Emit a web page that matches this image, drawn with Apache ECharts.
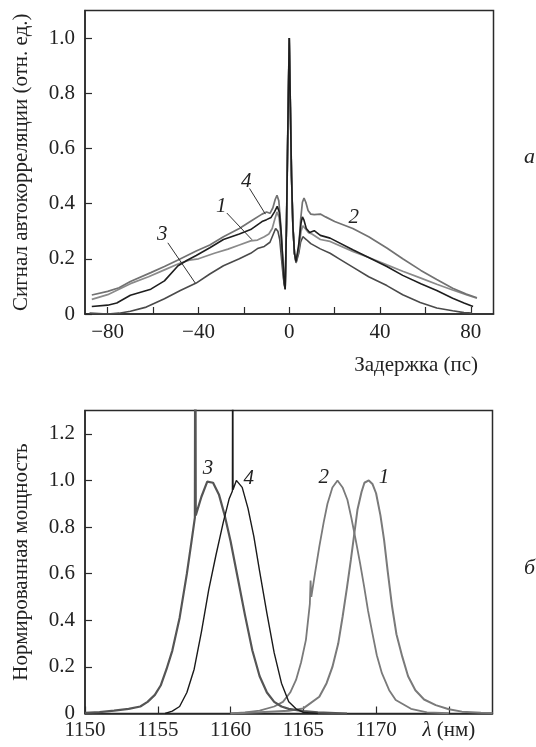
<!DOCTYPE html>
<html>
<head>
<meta charset="utf-8">
<script src="https://cdn.jsdelivr.net/npm/echarts@6/dist/echarts.min.js"></script>
<style>
html,body{margin:0;padding:0;background:#fff;}
#c{width:536px;height:747px;}
</style>
</head>
<body>
<div id="c"></div>
<script>
// ---------- Panel a: autocorrelation ----------
const acfXTicks = [-80, -60, -40, -20, 0, 20, 40, 60, 80];
const acfXLabels = [-80, -40, 0, 40, 80];
const acfYTicks = [0, 0.2, 0.4, 0.6, 0.8, 1.0];

const acf1 = [[-87,0.053],[-80,0.07],[-70,0.11],[-62,0.135],[-55,0.16],[-48,0.185],[-44,0.195],[-40,0.2],[-33,0.22],[-27,0.235],[-22,0.25],[-17,0.265],[-14,0.268],[-11,0.28],[-9,0.29],[-7.5,0.31],[-6.5,0.34],[-5.4,0.37],[-4.5,0.35],[-3.6,0.28],[-2.8,0.18],[-2.2,0.11],[-1.8,0.09],[-1.2,0.33],[-0.6,0.68],[0,1.0],[0.5,0.75],[1,0.5],[1.6,0.32],[2.3,0.22],[3,0.19],[3.5,0.19],[4.3,0.24],[5.2,0.3],[6,0.32],[7,0.31],[8.5,0.295],[10,0.29],[13.7,0.27],[18,0.263],[28,0.227],[35,0.205],[43,0.178],[50,0.155],[58,0.13],[65,0.108],[72,0.087],[78,0.07],[82.7,0.057]];
const acf2 = [[-87,0.069],[-80,0.082],[-75,0.095],[-70,0.118],[-61,0.15],[-55,0.172],[-49,0.196],[-41,0.228],[-35,0.25],[-29,0.28],[-22,0.31],[-17,0.336],[-12,0.362],[-10,0.37],[-8.5,0.365],[-7.2,0.385],[-6.2,0.415],[-5.4,0.43],[-4.6,0.41],[-3.8,0.33],[-3,0.22],[-2.3,0.13],[-1.8,0.09],[-1.2,0.33],[-0.6,0.68],[0,1.0],[0.5,0.75],[1,0.5],[1.6,0.32],[2.3,0.22],[3,0.185],[3.5,0.18],[4.2,0.24],[5,0.34],[5.8,0.405],[6.5,0.42],[7.3,0.405],[8.3,0.375],[9.5,0.362],[11,0.36],[13.7,0.362],[16,0.352],[20,0.335],[28,0.31],[35,0.28],[43,0.239],[50,0.2],[58,0.158],[65,0.125],[72,0.093],[78,0.072],[82.7,0.059]];
const acf3 = [[-88,0.003],[-80,0.0],[-75,0.003],[-70,0.01],[-63,0.025],[-55,0.055],[-48,0.085],[-41,0.112],[-35,0.145],[-29,0.175],[-22,0.2],[-17,0.22],[-14,0.237],[-11,0.245],[-8.5,0.26],[-7,0.29],[-6,0.31],[-5,0.3],[-4.2,0.27],[-3.4,0.2],[-2.6,0.13],[-1.8,0.09],[-1.2,0.33],[-0.6,0.68],[0,1.0],[0.5,0.75],[1,0.5],[1.6,0.32],[2.3,0.22],[3,0.185],[3.5,0.18],[4.2,0.22],[5,0.26],[6,0.28],[7.5,0.27],[9.5,0.255],[13.7,0.236],[18,0.22],[22,0.2],[28,0.17],[35,0.135],[43,0.103],[50,0.07],[57.7,0.042],[65,0.022],[72,0.012],[77,0.005],[80.5,0.003]];
const acf4 = [[-87,0.027],[-80,0.032],[-76,0.04],[-70,0.068],[-61,0.09],[-55,0.12],[-49,0.175],[-45,0.195],[-41,0.212],[-35,0.24],[-29,0.27],[-22,0.29],[-17,0.306],[-12,0.335],[-10,0.342],[-8,0.35],[-6.5,0.37],[-5.3,0.39],[-4.4,0.37],[-3.6,0.3],[-2.8,0.19],[-2.2,0.11],[-1.8,0.09],[-1.2,0.33],[-0.6,0.68],[0,1.0],[0.5,0.75],[1,0.5],[1.6,0.32],[2.3,0.22],[3,0.19],[3.5,0.19],[4.3,0.26],[5.2,0.33],[5.8,0.352],[6.5,0.34],[7.5,0.31],[9,0.295],[11,0.302],[13.7,0.285],[18,0.275],[28,0.233],[35,0.205],[43,0.172],[50,0.14],[58,0.11],[65,0.085],[72,0.057],[77,0.04],[81,0.027]];

// annotation label positions and leader lines for panel a (data coords)
const acfLabels = [
  {name:'1', at:[-30,0.39], line:[[-27.5,0.366],[-16.4,0.269]]},
  {name:'2', at:[28.4,0.35], line:null},
  {name:'3', at:[-56,0.29], line:[[-53.5,0.258],[-41.4,0.112]]},
  {name:'4', at:[-19,0.48], line:[[-17.5,0.455],[-10.5,0.362]]}
];

// ---------- Panel б: spectra ----------
const spXTicks = [1150, 1155, 1160, 1165, 1170, 1175];
const spYTicks = [0, 0.2, 0.4, 0.6, 0.8, 1.0, 1.2];

const sp1 = [[1160,0],[1162,0.005],[1164,0.012],[1165,0.022],[1166.1,0.072],[1166.6,0.13],[1167,0.2],[1167.4,0.3],[1167.7,0.415],[1168,0.54],[1168.27,0.66],[1168.5,0.77],[1168.72,0.874],[1169,0.95],[1169.2,0.99],[1169.5,1.0],[1169.75,0.985],[1170,0.945],[1170.3,0.85],[1170.55,0.745],[1170.8,0.61],[1171.1,0.459],[1171.4,0.34],[1171.8,0.244],[1172.2,0.16],[1172.7,0.1],[1173.3,0.06],[1174.1,0.036],[1175,0.018],[1175.9,0.008],[1177.2,0.003],[1178,0.002]];
const sp2 = [[1160,0],[1161,0.005],[1162,0.012],[1163,0.03],[1163.6,0.05],[1164.1,0.09],[1164.5,0.144],[1164.85,0.22],[1165.18,0.316],[1165.45,0.47],[1165.5,0.57],[1165.55,0.5],[1165.8,0.6],[1166.1,0.716],[1166.4,0.82],[1166.66,0.9],[1167,0.97],[1167.35,1.0],[1167.7,0.97],[1168.03,0.917],[1168.3,0.84],[1168.6,0.745],[1168.9,0.645],[1169.18,0.544],[1169.45,0.44],[1169.75,0.344],[1170.05,0.25],[1170.4,0.173],[1170.9,0.1],[1171.35,0.058],[1172.4,0.02],[1173.5,0.005],[1175,0.001]];
const sp3 = [[1150,0.003],[1151,0.006],[1152,0.012],[1153,0.02],[1153.8,0.03],[1154.3,0.05],[1154.8,0.08],[1155.2,0.12],[1155.6,0.19],[1156,0.27],[1156.5,0.41],[1157,0.6],[1157.3,0.73],[1157.55,0.84],[1157.58,2.0],[1157.61,0.85],[1158,0.93],[1158.4,0.995],[1158.8,0.99],[1159.2,0.94],[1159.6,0.85],[1160,0.74],[1160.5,0.58],[1161,0.42],[1161.5,0.27],[1162,0.16],[1162.5,0.09],[1163,0.05],[1163.5,0.03],[1164,0.02],[1165,0.01],[1166,0.005],[1168,0.0]];
const sp4 = [[1155.5,0],[1156,0.01],[1156.5,0.03],[1157,0.09],[1157.5,0.19],[1158,0.35],[1158.5,0.53],[1159,0.68],[1159.5,0.82],[1159.9,0.92],[1160.13,0.955],[1160.15,2.0],[1160.17,0.96],[1160.4,1.0],[1160.8,0.97],[1161.2,0.88],[1161.6,0.76],[1162,0.61],[1162.5,0.43],[1163,0.26],[1163.5,0.13],[1164,0.05],[1164.5,0.02],[1165,0.005],[1166,0]];

const spLabels = [
  {name:'1', at:[1170.55,1.014]},
  {name:'2', at:[1166.4,1.014]},
  {name:'3', at:[1158.45,1.053]},
  {name:'4', at:[1161.25,1.01]}
];

const FONT = '"Liberation Serif","DejaVu Serif",serif';
const INK = '#2a2a2a';
const TICKFS = 21;
const NAMEFS = 21;

function fmtY(v){ return v === 0 ? '0' : v.toFixed(1); }

function labelSeries(list, xi, yi){
  const pts = list.map(l => ({coord:l.at, value:l.name}));
  const lines = list.filter(l => l.line).map(l => [{coord:l.line[0]},{coord:l.line[1]}]);
  return {
    type:'line', xAxisIndex:xi, yAxisIndex:yi, data:[], silent:true,
    markPoint:{
      symbol:'circle', symbolSize:1, itemStyle:{color:'rgba(0,0,0,0)'},
      label:{show:true, position:'inside', formatter:p=>p.value, color:'#222',
             fontFamily:FONT, fontStyle:'italic', fontSize:21},
      data:pts, animation:false
    },
    markLine:{
      symbol:['none','none'], silent:true, animation:false,
      lineStyle:{color:'#333', width:1, type:'solid'},
      label:{show:false}, data:lines
    }
  };
}

function curve(data, color, width, xi, yi){
  return {type:'line', data:data, xAxisIndex:xi, yAxisIndex:yi, showSymbol:false,
          symbol:'none', clip:true, lineStyle:{color:color, width:width}, animation:false};
}

const axisLineStyle = {show:true, onZero:false, lineStyle:{color:INK, width:1.5}};
const tickStyle = {show:true, inside:true, length:7, lineStyle:{color:INK, width:1.2}};
const labelBase = {color:'#222', fontFamily:FONT, fontSize:TICKFS};

const option = {
  backgroundColor:'#fff',
  animation:false,
  title:[
    {text:'Задержка (пс)', right:53, top:350, textStyle:{fontFamily:FONT, fontSize:NAMEFS, fontWeight:'normal', color:'#222'}},
    {text:'а', left:519, top:141, textStyle:{fontFamily:FONT, fontSize:22, fontStyle:'italic', fontWeight:'normal', color:'#222'}},
    {text:'б', left:519, top:552, textStyle:{fontFamily:FONT, fontSize:22, fontStyle:'italic', fontWeight:'normal', color:'#222'}}
  ],
  grid:[
    {left:85, top:10.5, width:408.5, height:303.5, show:true, borderColor:INK, borderWidth:1.5, containLabel:false},
    {left:85, top:410.5, width:407.5, height:303, show:true, borderColor:INK, borderWidth:1.5, containLabel:false}
  ],
  xAxis:[
    {type:'value', gridIndex:0, min:-90, max:90,
     axisLine:axisLineStyle, splitLine:{show:false},
     axisTick:Object.assign({}, tickStyle, {customValues:acfXTicks}),
     axisLabel:Object.assign({}, labelBase, {margin:8, customValues:acfXLabels,
        formatter:v => v < 0 ? '\u2212' + Math.abs(v) : String(v)})},
    {type:'value', gridIndex:1, min:1150, max:1178,
     axisLine:axisLineStyle, splitLine:{show:false},
     axisTick:Object.assign({}, tickStyle, {customValues:spXTicks}),
     axisLabel:Object.assign({}, labelBase, {margin:6, customValues:spXTicks,
        formatter:v => v === 1175 ? '{i|λ} (нм)' : String(v),
        rich:{i:{fontFamily:FONT, fontStyle:'italic', fontSize:TICKFS, color:'#222'}}})}
  ],
  yAxis:[
    {type:'value', gridIndex:0, min:0, max:1.1,
     name:'Сигнал автокорреляции (отн. ед.)', nameLocation:'middle', nameGap:53,
     nameTextStyle:{fontFamily:FONT, fontSize:NAMEFS, color:'#222'},
     axisLine:axisLineStyle, splitLine:{show:false},
     axisTick:Object.assign({}, tickStyle, {customValues:acfYTicks}),
     axisLabel:Object.assign({}, labelBase, {margin:10, customValues:acfYTicks, formatter:fmtY})},
    {type:'value', gridIndex:1, min:0, max:1.3,
     name:'Нормированная мощность', nameLocation:'middle', nameGap:53,
     nameTextStyle:{fontFamily:FONT, fontSize:NAMEFS, color:'#222'},
     axisLine:axisLineStyle, splitLine:{show:false},
     axisTick:Object.assign({}, tickStyle, {customValues:spYTicks}),
     axisLabel:Object.assign({}, labelBase, {margin:10, customValues:spYTicks, formatter:fmtY})}
  ],
  series:[
    curve(acf3, '#4a4a4a', 1.6, 0, 0),
    curve(acf1, '#8a8a8a', 1.7, 0, 0),
    curve(acf2, '#727272', 1.7, 0, 0),
    curve(acf4, '#1e1e1e', 1.6, 0, 0),
    labelSeries(acfLabels, 0, 0),
    curve(sp1, '#7a7a7a', 2.0, 1, 1),
    curve(sp2, '#7a7a7a', 1.8, 1, 1),
    curve(sp3, '#555555', 2.2, 1, 1),
    curve(sp4, '#1a1a1a', 1.4, 1, 1),
    labelSeries(spLabels, 1, 1)
  ]
};

const chart = echarts.init(document.getElementById('c'), null, {renderer:'canvas'});
chart.setOption(option);
</script>
</body>
</html>
